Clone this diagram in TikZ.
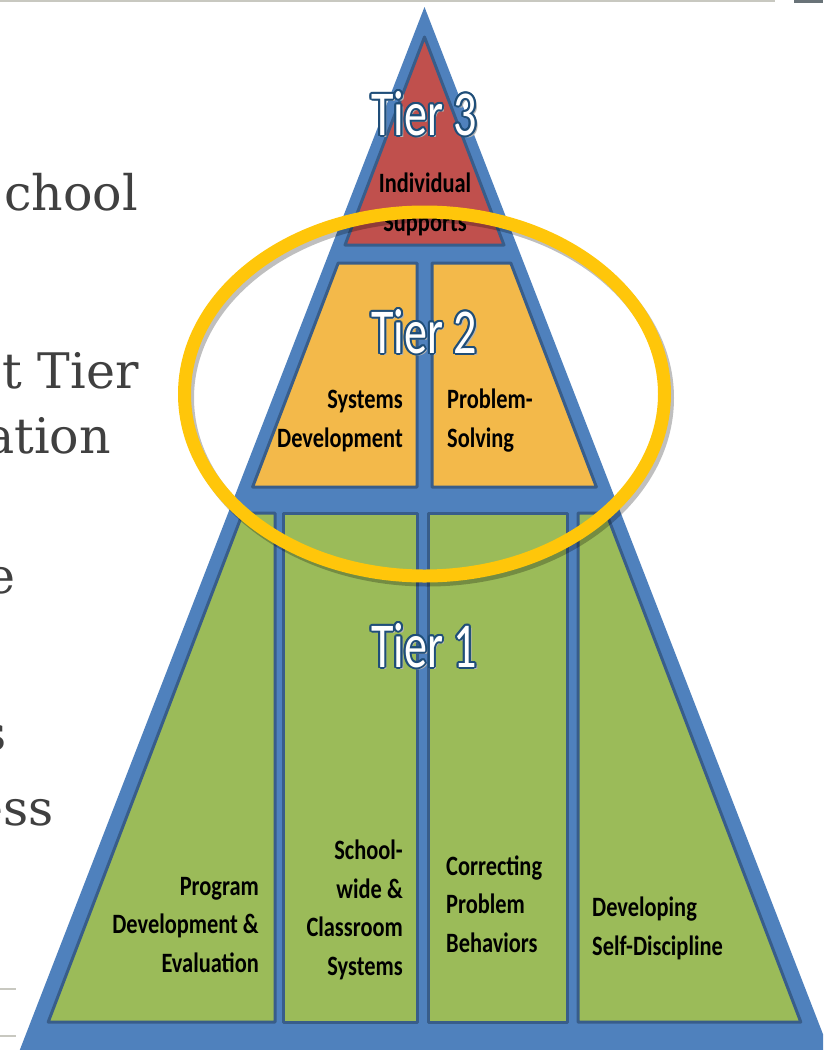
\documentclass[tikz,border=0pt]{standalone}
\usepackage{fontspec}
\newfontfamily\labelfont[FakeStretch=0.8]{Carlito}
\newfontfamily\tierfont[FakeStretch=0.72]{Carlito}
\newfontfamily\slidefont{DejaVu Serif}

\definecolor{tierblue}{RGB}{79,129,189}
\definecolor{panelrim}{RGB}{56,93,138}
\definecolor{tierred}{RGB}{192,80,77}
\definecolor{tierorange}{RGB}{243,185,74}
\definecolor{tiergreen}{RGB}{155,187,89}
\definecolor{tierrim}{RGB}{31,78,121}
\definecolor{ringgold}{RGB}{255,198,10}
\definecolor{slidegray}{RGB}{64,64,64}
\definecolor{slideline}{RGB}{200,200,192}
\definecolor{thumbgray}{RGB}{105,115,120}

% white letters with a dark rim and a soft shadow
\newcommand\tieroutline[1]{%
  \rlap{\kern2.5pt\raisebox{-2.5pt}{\color{black!30}#1}}%
  \foreach \a in {0,30,...,330}{%
    \pgfmathsetlengthmacro\dx{2pt*cos(\a)}%
    \pgfmathsetlengthmacro\dy{2pt*sin(\a)}%
    \rlap{\kern\dx\raisebox{\dy}{\color{tierrim}#1}}}%
  \textcolor{white}{#1}}

\tikzset{
  panel/.style={draw=panelrim, line width=3pt, line join=round},
  lbl/.style={inner sep=0pt, text=black,
    font=\labelfont\bfseries\fontsize{28}{38.5}\selectfont},
  tierlbl/.style={inner sep=0pt, anchor=base,
    font=\tierfont\fontsize{64}{64}\selectfont},
  slide/.style={inner sep=0pt, anchor=base east, text=slidegray,
    font=\slidefont\fontsize{49}{58}\selectfont},
}

\begin{document}
\begin{tikzpicture}[x=1pt,y=-1pt]
                    \useasboundingbox (0,0) rectangle (823,1050);
                    \clip (0,0) rectangle (823,1050);
                    \fill[white] (0,0) rectangle (823,1050);

                    % slide frame bits
                    \draw[line width=2pt, slideline] (0,1) -- (775,1);
                    \fill[thumbgray] (794,0) rectangle (823,3);
                    \draw[line width=1.5pt, slideline] (0,989) -- (16,989);
                    \draw[line width=1.5pt, slideline] (0,1036) -- (16,1036);

                    \node[slide] (chool) at (138,210) {chool};
                    \node[slide] (tierword) at (139,388) {t Tier};
                    \node[slide] (ation) at (111,453) {ation};
                    \node[slide] (e) at (16,593) {e};
                    \node[slide] (s) at (7,750) {s};
                    \node[slide] (ess) at (54,825) {ess};

                    % pyramid
                    \fill[tierblue] (424.5,7) -- (15.9,1060) -- (833,1060) -- cycle;
                    \filldraw[panel, fill=tierred] (424.5,37) -- (345,245) -- (504,245) -- cycle;
                    \filldraw[panel, fill=tierorange] (338.2,263) -- (417,263) -- (417,487) -- (252.6,487) -- cycle;
                    \filldraw[panel, fill=tierorange] (432,263) -- (510.8,263) -- (596.4,487) -- (432,487) -- cycle;
                    \filldraw[panel, fill=tiergreen] (242.7,513) -- (275,513) -- (275,1022) -- (48.2,1022) -- cycle;
                    \filldraw[panel, fill=tiergreen] (283,513) rectangle (417,1022);
                    \filldraw[panel, fill=tiergreen] (428,513) rectangle (567,1022);
                    \filldraw[panel, fill=tiergreen] (578,513) -- (606.3,513) -- (800.8,1022) -- (578,1022) -- cycle;

                    \node[tierlbl] (tier3) at (424,135) {\tieroutline{Tier 3}};
                    \node[tierlbl] (tier2) at (424,353) {\tieroutline{Tier 2}};
                    \node[tierlbl] (tier1) at (424,667) {\tieroutline{Tier 1}};

                    \node[lbl, align=center, anchor=base] (indiv) at (425,231) {Individual\\Supports};
                    \node[lbl, align=right, anchor=base east] (sysdev) at (403,447) {Systems\\Development};
                    \node[lbl, align=left, anchor=base west] (probsolve) at (447,447) {Problem-\\Solving};
                    \node[lbl, align=right, anchor=base east] (progdev) at (259,972) {Program\\Development \&\\Evaluation};
                    \node[lbl, align=right, anchor=base east] (schoolwide) at (403,975) {School-\\wide \&\\Classroom\\Systems};
                    \node[lbl, align=left, anchor=base west] (correcting) at (446,952) {Correcting\\Problem\\Behaviors};
                    \node[lbl, align=left, anchor=base west] (developing) at (592,955) {Developing\\Self-Discipline};

                    % tier 2 ring
                    \draw[line width=13pt, black, opacity=0.25] (427.5,398) ellipse [x radius=240, y radius=182];
                    \draw[line width=13pt, ringgold] (424.5,394) ellipse [x radius=240, y radius=182];
                \end{tikzpicture}
\end{document}
